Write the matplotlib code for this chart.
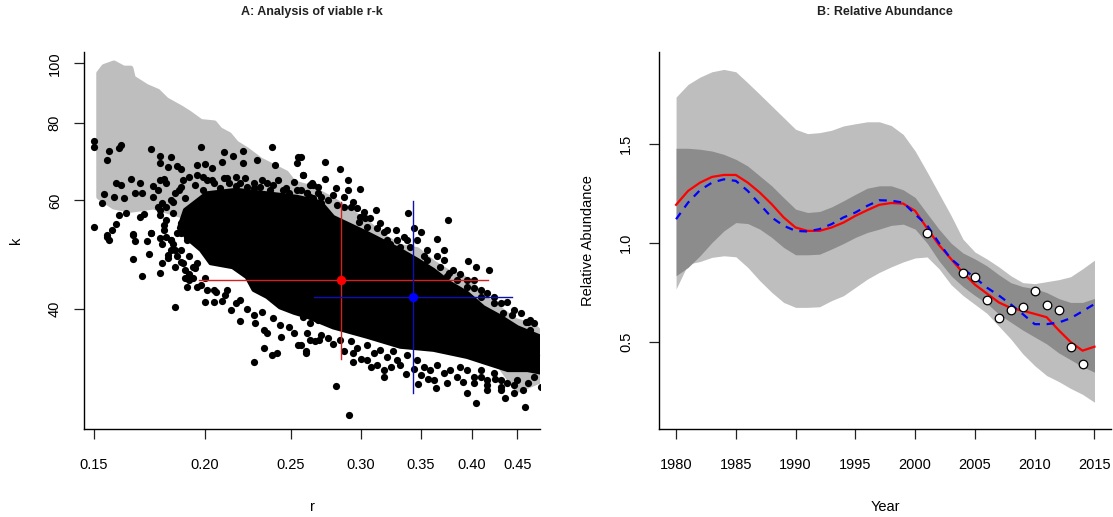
import numpy as np
import matplotlib
matplotlib.use('Agg')
import matplotlib.pyplot as plt

plt.rcParams['font.family'] = ['Liberation Sans', 'DejaVu Sans']

# ---- panel A: viable r-k pairs ----
# outline of the grey (all samples) cloud
grey_r = [0.152, 0.152, 0.154, 0.158, 0.162, 0.165, 0.166, 0.172, 0.177, 0.181,
          0.188, 0.192, 0.198, 0.205, 0.208, 0.213, 0.217, 0.223, 0.231, 0.239,
          0.247, 0.252, 0.261, 0.270, 0.279, 0.292, 0.305, 0.318, 0.332, 0.347,
          0.362, 0.378, 0.388, 0.402, 0.416, 0.431, 0.446, 0.470, 0.478,
          0.478, 0.450, 0.431, 0.398, 0.332, 0.277, 0.237, 0.208, 0.188,
          0.175, 0.165, 0.158]
grey_k = [60.8, 96.3, 98.7, 100.0, 98.1, 98.1, 94.6, 91.6, 90.0, 87.2,
          84.6, 83.0, 80.4, 80.0, 78.0, 76.6, 74.2, 72.4, 69.7, 68.0,
          66.4, 64.0, 63.1, 61.6, 60.1, 57.5, 55.1, 52.4, 50.5, 49.9,
          47.5, 45.7, 45.4, 43.5, 41.4, 39.9, 38.4, 37.5, 36.6,
          30.7, 29.6, 32.3, 33.7, 37.0, 41.4, 46.3, 51.8, 56.8,
          58.6, 57.9, 58.6]

# outline of the dense core of viable (black) pairs
core_r = [0.187, 0.190, 0.201, 0.217, 0.235, 0.254, 0.270, 0.279, 0.305, 0.332,
          0.347, 0.362, 0.378, 0.395, 0.412, 0.431, 0.450, 0.478,
          0.478, 0.462, 0.439, 0.416, 0.395, 0.362, 0.332, 0.305, 0.279, 0.261,
          0.252, 0.243, 0.235, 0.227, 0.223, 0.215, 0.203, 0.198, 0.192]
core_k = [54.1, 57.9, 61.6, 62.4, 61.6, 60.8, 59.6, 56.4, 53.1, 49.9,
          48.1, 46.3, 44.1, 42.5, 40.3, 38.9, 37.4, 36.1,
          31.6, 31.9, 31.9, 32.7, 33.5, 34.4, 34.8, 36.1, 37.4, 38.9,
          39.5, 40.3, 41.9, 43.0, 45.1, 46.8, 47.5, 49.9, 51.8]

# scattered viable pairs outside the core
pts_r = [0.150, 0.150, 0.161, 0.160, 0.156, 0.155, 0.174, 0.178, 0.178, 0.183,
         0.182, 0.186, 0.188, 0.198, 0.196, 0.200, 0.204, 0.210, 0.209, 0.215,
         0.221, 0.221, 0.229, 0.238, 0.240, 0.255, 0.254, 0.258, 0.265, 0.159,
         0.165, 0.161, 0.167, 0.170, 0.169, 0.154, 0.153, 0.158, 0.162, 0.163,
         0.160, 0.169, 0.171, 0.159, 0.157, 0.150, 0.155, 0.166, 0.174, 0.178,
         0.175, 0.177, 0.178, 0.180, 0.181, 0.175, 0.177, 0.179, 0.181, 0.184,
         0.185, 0.188, 0.189, 0.192, 0.196, 0.199, 0.201, 0.205, 0.210, 0.213,
         0.217, 0.219, 0.223, 0.227, 0.231, 0.235, 0.239, 0.245, 0.249, 0.254,
         0.261, 0.263, 0.249, 0.256, 0.265, 0.257, 0.273, 0.284, 0.258, 0.273,
         0.290, 0.290, 0.281, 0.299, 0.264, 0.268, 0.279, 0.294, 0.312, 0.303,
         0.298, 0.313, 0.318, 0.328, 0.339, 0.344, 0.350, 0.335, 0.338, 0.323,
         0.376, 0.365, 0.372, 0.353, 0.368, 0.377, 0.396, 0.404, 0.418, 0.402,
         0.438, 0.444, 0.462, 0.470, 0.299, 0.305, 0.321, 0.332, 0.356, 0.375,
         0.385, 0.395, 0.409, 0.423, 0.434, 0.287, 0.270, 0.156, 0.155, 0.166,
         0.174, 0.167, 0.172, 0.179, 0.173, 0.166, 0.170, 0.178, 0.179, 0.182,
         0.185, 0.185, 0.191, 0.196, 0.190, 0.194, 0.200, 0.205, 0.209, 0.201,
         0.206, 0.212, 0.217, 0.219, 0.223, 0.227, 0.228, 0.233, 0.235, 0.233,
         0.238, 0.241, 0.227, 0.244, 0.249, 0.255, 0.260, 0.263, 0.269, 0.252,
         0.243, 0.239, 0.232, 0.260, 0.281, 0.291, 0.294, 0.294, 0.300, 0.308,
         0.318, 0.318, 0.332, 0.337, 0.344, 0.348, 0.357, 0.364, 0.375, 0.391,
         0.395, 0.404, 0.416, 0.431, 0.436, 0.446, 0.456, 0.459, 0.465, 0.470,
         0.465, 0.460, 0.472, 0.425, 0.409]
pts_k = [75.0, 73.3, 73.8, 72.9, 72.2, 69.7, 72.7, 70.8, 69.0, 70.4,
         68.0, 68.2, 67.4, 73.3, 68.5, 68.7, 67.6, 71.9, 69.3, 70.8,
         72.2, 68.9, 69.7, 73.3, 68.5, 70.6, 68.9, 66.0, 63.5, 64.0,
         64.9, 63.5, 61.6, 61.6, 64.0, 61.4, 59.4, 60.8, 60.5, 57.2,
         56.8, 56.5, 57.0, 55.0, 53.7, 54.4, 52.8, 52.9, 53.2, 52.1,
         63.3, 62.4, 64.7, 64.9, 64.0, 60.8, 58.6, 59.4, 58.6, 59.7,
         61.6, 63.1, 64.7, 65.5, 66.0, 65.5, 64.7, 64.0, 65.2, 64.0,
         65.5, 64.0, 63.1, 64.0, 63.1, 64.0, 63.5, 62.4, 61.6, 62.4,
         61.6, 60.8, 59.4, 59.4, 58.6, 70.6, 69.3, 67.4, 66.0, 64.9,
         64.7, 62.4, 62.8, 62.5, 64.0, 63.1, 61.2, 59.7, 58.0, 56.1,
         55.4, 54.1, 53.4, 53.7, 57.3, 54.1, 53.4, 52.4, 51.8, 51.1,
         55.8, 51.9, 49.9, 48.7, 46.9, 45.8, 47.8, 46.9, 46.3, 43.3,
         41.1, 39.2, 38.2, 38.0, 56.5, 54.4, 51.8, 50.5, 48.1, 45.2,
         44.6, 43.5, 41.9, 40.9, 39.4, 58.6, 60.8, 51.8, 52.4, 52.8,
         53.1, 51.5, 51.5, 51.1, 49.1, 48.2, 45.3, 45.8, 47.5, 48.4,
         46.9, 40.3, 43.4, 43.5, 44.9, 44.9, 41.1, 41.1, 41.3, 43.0,
         42.7, 43.0, 40.9, 38.3, 40.1, 39.2, 38.0, 37.0, 36.6, 34.6,
         33.7, 34.0, 32.9, 36.1, 37.5, 35.0, 34.0, 35.7, 35.7, 36.6,
         37.7, 38.7, 39.6, 34.2, 30.1, 27.0, 34.0, 32.9, 33.3, 32.3,
         31.9, 31.1, 32.5, 31.4, 32.0, 30.3, 30.8, 29.8, 30.4, 30.5,
         29.3, 28.2, 30.2, 29.6, 28.7, 30.2, 29.6, 27.8, 32.3, 35.2,
         37.0, 38.2, 33.7, 30.9, 31.1]

# crowded pairs hugging the edges of the core
edge_r = [0.258, 0.263, 0.268, 0.261, 0.270, 0.275, 0.279, 0.257, 0.266, 0.284,
          0.292, 0.297, 0.305, 0.310, 0.315, 0.321, 0.326, 0.305, 0.313, 0.324,
          0.287, 0.329, 0.338, 0.347, 0.353, 0.359, 0.365, 0.372, 0.378, 0.385,
          0.362, 0.350, 0.388, 0.395, 0.402, 0.409, 0.416, 0.423, 0.431, 0.438,
          0.450, 0.462, 0.470, 0.446, 0.431, 0.416, 0.402, 0.478,
          0.261, 0.265, 0.270, 0.275, 0.282, 0.287, 0.292, 0.297, 0.302, 0.307,
          0.315, 0.321, 0.329, 0.341, 0.347, 0.356, 0.365, 0.372, 0.381, 0.388,
          0.395, 0.402, 0.409, 0.416, 0.423, 0.431, 0.446, 0.454, 0.465,
          0.183, 0.187, 0.190, 0.195, 0.199, 0.204, 0.208, 0.212, 0.217, 0.222,
          0.227, 0.232, 0.237, 0.242, 0.247, 0.252, 0.257, 0.263, 0.268,
          0.178, 0.180, 0.183, 0.185, 0.188, 0.182, 0.190, 0.192, 0.195, 0.198,
          0.200, 0.205, 0.211, 0.219, 0.214,
          0.181, 0.184, 0.188, 0.191, 0.188, 0.192, 0.189, 0.194, 0.186, 0.183,
          0.192, 0.196, 0.178, 0.181, 0.184, 0.188, 0.191, 0.180, 0.186, 0.191,
          0.183]
edge_k = [38.9, 38.0, 38.4, 36.6, 36.3, 35.9, 35.2, 35.0, 35.5, 35.7,
          35.5, 34.6, 35.0, 34.0, 34.4, 33.5, 34.2, 33.1, 32.5, 32.3,
          34.2, 33.1, 33.7, 33.1, 32.3, 31.9, 32.5, 31.5, 31.9, 31.1,
          30.7, 31.3, 32.3, 31.9, 31.1, 31.9, 30.7, 31.5, 30.7, 30.4,
          30.7, 30.4, 31.1, 29.3, 30.0, 29.6, 30.4, 30.0,
          61.6, 60.5, 59.4, 60.1, 59.0, 60.8, 58.6, 58.3, 57.5, 56.1,
          55.1, 53.7, 51.8, 50.5, 51.8, 49.9, 48.7, 48.0, 46.3, 45.7,
          44.6, 44.6, 43.0, 42.5, 41.9, 40.9, 39.9, 39.4, 38.4,
          60.1, 62.4, 60.5, 63.5, 62.4, 64.7, 62.8, 65.2, 63.3, 65.2,
          62.8, 64.7, 62.4, 64.7, 62.8, 64.3, 62.4, 63.5, 61.7,
          56.8, 54.8, 51.8, 49.9, 47.7, 49.0, 46.3, 44.6, 46.7, 43.8,
          44.9, 43.0, 42.2, 41.4, 39.9,
          52.4, 51.1, 49.9, 51.8, 53.1, 48.7, 47.5, 46.9, 48.7, 49.9,
          45.7, 47.5, 57.9, 55.8, 57.2, 55.1, 56.5, 53.7, 53.1, 52.4,
          51.8]

# estimates with their ranges
red_r, red_k = 0.2847, 44.6
red_rlim, red_klim = [0.1968, 0.4168], [33.3, 59.6]
blue_r, blue_k = 0.3432, 41.8
blue_rlim, blue_klim = [0.2657, 0.4440], [29.3, 59.8]

r_ticks = [0.15, 0.20, 0.25, 0.30, 0.35, 0.40, 0.45]
k_ticks = [40, 60, 80, 100]

# ---- panel B: relative abundance ----
years = np.arange(1980, 2016)
outer_hi = [1.739, 1.803, 1.840, 1.867, 1.879, 1.867, 1.811, 1.753, 1.694, 1.635,
            1.576, 1.554, 1.559, 1.571, 1.593, 1.604, 1.614, 1.614, 1.595, 1.550,
            1.466, 1.360, 1.250, 1.140, 1.020, 0.955, 0.920, 0.880, 0.835, 0.800,
            0.795, 0.805, 0.815, 0.830, 0.870, 0.914]
outer_lo = [0.768, 0.894, 0.907, 0.928, 0.936, 0.931, 0.877, 0.810, 0.751, 0.700,
            0.675, 0.675, 0.678, 0.709, 0.734, 0.776, 0.818, 0.852, 0.880, 0.905,
            0.925, 0.930, 0.870, 0.790, 0.735, 0.690, 0.645, 0.580, 0.515, 0.440,
            0.380, 0.330, 0.300, 0.265, 0.235, 0.195]
inner_hi = [1.480, 1.480, 1.475, 1.466, 1.449, 1.424, 1.390, 1.340, 1.290, 1.230,
            1.172, 1.155, 1.160, 1.183, 1.214, 1.247, 1.278, 1.290, 1.290, 1.270,
            1.231, 1.150, 1.070, 1.000, 0.950, 0.920, 0.885, 0.840, 0.800, 0.780,
            0.770, 0.750, 0.720, 0.700, 0.700, 0.720]
inner_lo = [0.835, 0.877, 0.936, 1.003, 1.062, 1.104, 1.099, 1.071, 1.029, 0.978,
            0.941, 0.941, 0.944, 0.970, 0.998, 1.029, 1.054, 1.071, 1.090, 1.096,
            1.071, 1.000, 0.910, 0.835, 0.780, 0.735, 0.695, 0.641, 0.600, 0.560,
            0.525, 0.490, 0.445, 0.410, 0.375, 0.347]
fit_red = [1.194, 1.264, 1.306, 1.335, 1.345, 1.345, 1.306, 1.256, 1.197, 1.130,
           1.079, 1.062, 1.062, 1.079, 1.104, 1.138, 1.167, 1.194, 1.203, 1.200,
           1.163, 1.075, 0.990, 0.920, 0.850, 0.790, 0.745, 0.700, 0.672, 0.658,
           0.642, 0.625, 0.560, 0.500, 0.456, 0.476]
fit_blue = [1.121, 1.205, 1.268, 1.306, 1.323, 1.315, 1.264, 1.197, 1.130, 1.088,
            1.062, 1.059, 1.071, 1.096, 1.130, 1.155, 1.189, 1.217, 1.215, 1.205,
            1.146, 1.090, 1.000, 0.920, 0.870, 0.825, 0.775, 0.735, 0.690, 0.641,
            0.590, 0.590, 0.598, 0.620, 0.655, 0.692]
obs_year = [2001, 2004, 2005, 2006, 2007, 2008, 2009, 2010, 2011, 2012, 2013, 2014]
obs_val = [1.049, 0.850, 0.830, 0.712, 0.621, 0.662, 0.675, 0.759, 0.689, 0.662, 0.476, 0.389]


def style_axes(ax):
    # R style "L" box
    ax.spines['right'].set_visible(False)
    ax.spines['top'].set_visible(False)
    ax.spines['left'].set_linewidth(1.0)
    ax.spines['bottom'].set_linewidth(1.0)
    ax.tick_params(axis='both', length=7, width=0.9, labelsize=10.5, color='#222222')
    ax.tick_params(axis='x', pad=14)
    ax.tick_params(axis='y', labelrotation=90)


fig = plt.figure(figsize=(11.13, 5.17), dpi=100)

# ---------------- A ----------------
ax1 = fig.add_axes([0.0755, 0.170, 0.410, 0.729])
ax1.set_xscale('log')
ax1.set_yscale('log')
ax1.fill(grey_r, grey_k, color='#bebebe', edgecolor='#bebebe', linewidth=4, joinstyle='round', zorder=1)
ax1.fill(core_r, core_k, color='black', edgecolor='black', linewidth=3, joinstyle='round', zorder=2)
ax1.scatter(pts_r, pts_k, s=27, c='black', linewidths=0, zorder=3)
ax1.scatter(edge_r, edge_k, s=27, c='black', linewidths=0, zorder=3)
ax1.plot(red_rlim, [red_k, red_k], color='#d42020', lw=1, zorder=4)
ax1.plot([red_r, red_r], red_klim, color='#d42020', lw=1, zorder=4)
ax1.plot(blue_rlim, [blue_k, blue_k], color='#1010b0', lw=1, zorder=4)
ax1.plot([blue_r, blue_r], blue_klim, color='#1010b0', lw=1, zorder=4)
ax1.scatter([red_r], [red_k], s=45, c='red', linewidths=0, zorder=5)
ax1.scatter([blue_r], [blue_k], s=45, c='blue', linewidths=0, zorder=5)
ax1.set_xlim(0.1462, 0.4776)
ax1.set_ylim(25.6, 104.2)
ax1.set_xticks(r_ticks)
ax1.set_xticklabels(['%.2f' % v for v in r_ticks])
ax1.set_yticks(k_ticks)
ax1.set_yticklabels([str(v) for v in k_ticks], va='center')
ax1.minorticks_off()
style_axes(ax1)
ax1.tick_params(axis='y', pad=9)

# ---------------- B ----------------
ax2 = fig.add_axes([0.5924, 0.170, 0.406, 0.729])
ax2.fill_between(years, outer_lo, outer_hi, color='#bebebe', linewidth=0, zorder=1)
ax2.fill_between(years, inner_lo, inner_hi, color='#8c8c8c', linewidth=0, zorder=2)
ax2.plot(years, fit_red, color='red', lw=1.6, zorder=3)
ax2.plot(years, fit_blue, color='blue', lw=1.6, dashes=(3.5, 3), zorder=4)
ax2.scatter(obs_year, obs_val, s=38, facecolor='white', edgecolor='black', linewidths=0.9, zorder=5)
ax2.set_xlim(1978.6, 2016.4)
ax2.set_ylim(0.059, 1.966)
ax2.set_xticks(np.arange(1980, 2016, 5))
ax2.set_yticks([0.5, 1.0, 1.5])
ax2.set_yticklabels(['0.5', '1.0', '1.5'], va='center')
style_axes(ax2)
ax2.tick_params(axis='y', pad=12)

# titles and axis labels
fig.text(0.2804, 0.977, 'A: Analysis of viable r-k', ha='center', va='center',
         fontsize=9, fontweight='bold', color='#222222')
fig.text(0.7953, 0.977, 'B: Relative Abundance', ha='center', va='center',
         fontsize=9, fontweight='bold', color='#222222')
fig.text(0.2804, 0.019, 'r', ha='center', va='center', fontsize=10.5)
fig.text(0.0144, 0.535, 'k', ha='center', va='center', rotation=90, fontsize=10.5)
fig.text(0.7953, 0.019, 'Year', ha='center', va='center', fontsize=10.5)
fig.text(0.5283, 0.535, 'Relative Abundance', ha='center', va='center', rotation=90, fontsize=10.5)

fig.savefig('out.png', dpi=100)
